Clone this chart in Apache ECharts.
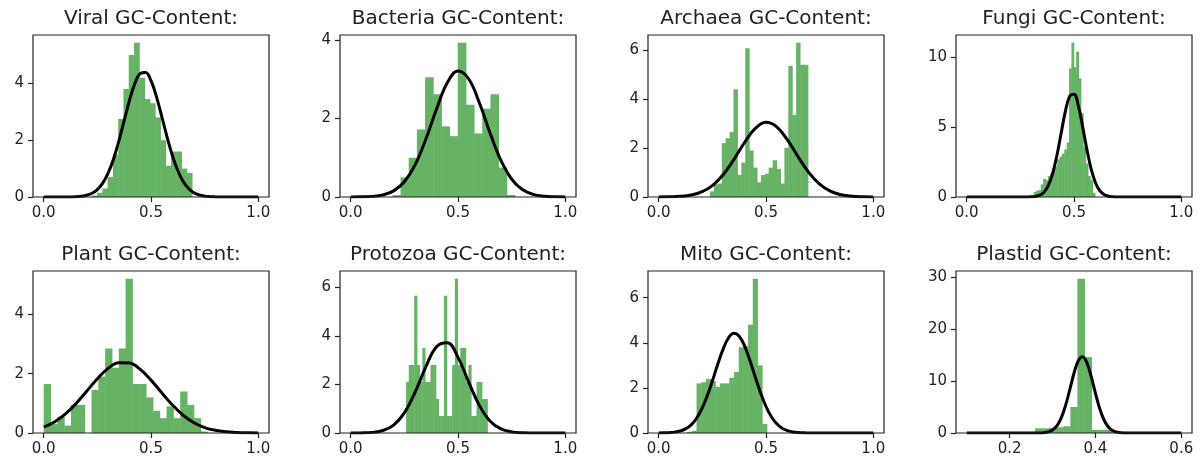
<!DOCTYPE html>
<html>
<head>
<meta charset="utf-8">
<script src="https://cdn.jsdelivr.net/npm/echarts@6/dist/echarts.min.js"></script>
<style>
  html, body { margin: 0; padding: 0; background: #fff; }
  #chart { width: 1200px; height: 463px; }
</style>
</head>
<body>
<div id="chart"></div>
<script>
// sample points of the fitted normal curves
const grid05 = [0, 0.05, 0.1, 0.15, 0.2, 0.25, 0.3, 0.35, 0.4, 0.45, 0.5, 0.55, 0.6, 0.65, 0.7, 0.75, 0.8, 0.85, 0.9, 0.95, 1];
const grid025 = [0, 0.025, 0.05, 0.075, 0.1, 0.125, 0.15, 0.175, 0.2, 0.225, 0.25, 0.275, 0.3, 0.325, 0.35, 0.375, 0.4, 0.425, 0.45, 0.475, 0.5,
  0.525, 0.55, 0.575, 0.6, 0.625, 0.65, 0.675, 0.7, 0.725, 0.75, 0.775, 0.8, 0.825, 0.85, 0.875, 0.9, 0.925, 0.95, 0.975, 1];

// Viral
const viralBins = [0.224, 0.0246];
const viralHeights = [0.05, 0.15, 0.3, 0.7, 1.5, 2.75, 3.8, 5.0, 5.43, 4.2, 3.45, 3.3, 2.8, 2.0, 1.1, 1.6, 1.6, 1.0, 0.85];
const viralCurve = [0, 0, 0, 0, 0, 0.003, 0.01, 0.026, 0.061, 0.131, 0.262, 0.487, 0.837, 1.332, 1.967, 2.69, 3.408, 4.0, 4.35, 4.383, 4.092,
  3.54, 2.837, 2.107, 1.45, 0.924, 0.546, 0.299, 0.151, 0.071, 0.031, 0.012, 0.004, 0.001, 0, 0, 0, 0, 0, 0, 0];
const viralYTicks = [0, 2, 4];

// Bacteria
const bacteriaBins = [0.194, 0.0381];
const bacteriaHeights = [0.05, 0.5, 1.0, 1.72, 3.05, 2.62, 1.8, 1.55, 3.93, 2.35, 1.62, 2.25, 2.62, 0.75, 0.05];
const bacteriaCurve = [0.001, 0.004, 0.016, 0.053, 0.156, 0.388, 0.818, 1.47, 2.243, 2.909, 3.207, 3.005, 2.394, 1.621, 0.932, 0.456, 0.189, 0.067, 0.02, 0.005, 0.001];
const bacteriaYTicks = [0, 2, 4];

// Archaea
const archaeaBins = [0.239, 0.01825];
const archaeaHeights = [0.23, 0.52, 0.55, 2.2, 2.4, 2.65, 4.4, 0.9, 1.4, 6.07, 1.9, 1.2, 0.6, 0.9, 0.95, 1.2, 1.5, 1.15, 0.55, 2.0, 5.35, 3.35, 6.3, 5.4, 5.4];
const archaeaCurve = [0.002, 0.008, 0.026, 0.079, 0.206, 0.465, 0.907, 1.528, 2.226, 2.801, 3.05, 2.867, 2.332, 1.639, 0.996, 0.523, 0.237, 0.093, 0.032, 0.009, 0.002];
const archaeaYTicks = [0, 2, 4, 6];

// Fungi
const fungiBins = [0.312, 0.011];
const fungiHeights = [0.35, 0.45, 0.5, 0.9, 1.3, 1.2, 1.5, 1.7, 2.0, 2.2, 2.7, 2.9, 3.1, 3.4, 3.9, 9.2, 11.05, 9.3, 10.4, 8.5, 6.0, 3.6, 2.4, 1.5, 1.2, 0.3];
const fungiCurveX = [0, 0.1, 0.2, 0.26, 0.28, 0.3, 0.32, 0.34, 0.36, 0.38, 0.4, 0.42, 0.44, 0.46, 0.48, 0.5, 0.52, 0.54, 0.56, 0.58, 0.6,
  0.62, 0.64, 0.66, 0.68, 0.7, 0.72, 0.74, 0.8, 0.9, 1];
const fungiCurve = [0, 0, 0, 0, 0.002, 0.012, 0.041, 0.128, 0.346, 0.812, 1.658, 2.95, 4.566, 6.152, 7.215, 7.367, 6.548, 5.066, 3.411, 2.0, 1.021,
  0.453, 0.175, 0.059, 0.017, 0.004, 0.001, 0, 0, 0, 0];
const fungiYTicks = [0, 5, 10];

// Plant
const plantBins = [0, 0.0318];
const plantHeights = [1.65, 0.3, 0.55, 0.25, 0.95, 0.95, 0, 1.45, 1.9, 2.85, 2.2, 2.85, 5.2, 1.65, 1.65, 1.2, 0.75, 0.5, 0.9, 0.5, 1.4, 0.95, 0.5, 0.05];
const plantCurve = [0.2, 0.372, 0.634, 0.988, 1.406, 1.83, 2.178, 2.369, 2.357, 2.143, 1.782, 1.354, 0.941, 0.598, 0.347, 0.184, 0.09, 0.04, 0.016, 0.006, 0.002];
const plantYTicks = [0, 2, 4];

// Protozoa
const protozoaBins = [0.258, 0.01263];
const protozoaHeights = [2.1, 2.8, 2.8, 5.65, 2.8, 2.1, 3.5, 2.1, 2.1, 2.8, 2.8, 1.4, 0.7, 0.7, 5.65, 0.7, 0.7, 2.8, 6.35, 2.8, 3.5, 3.5, 2.1, 2.8, 0.7, 0.7, 2.1, 2.1, 1.4, 1.4];
const protozoaCurve = [0.001, 0.005, 0.026, 0.104, 0.327, 0.827, 1.677, 2.726, 3.552, 3.713, 3.112, 2.091, 1.127, 0.487, 0.169, 0.047, 0.01, 0.002, 0, 0, 0];
const protozoaYTicks = [0, 2, 4, 6];

// Mito
const mitoBins = [0.1326, 0.02184];
const mitoHeights = [0.05, 0.1, 2.2, 2.25, 2.4, 2.3, 2.05, 2.2, 2.2, 2.45, 2.7, 3.8, 3.85, 4.8, 6.84, 3.0, 0.4];
const mitoCurve = [0.002, 0.006, 0.016, 0.039, 0.087, 0.182, 0.353, 0.633, 1.052, 1.619, 2.306, 3.044, 3.72, 4.212, 4.417, 4.291, 3.86, 3.216, 2.482, 1.774, 1.175,
  0.72, 0.409, 0.215, 0.105, 0.047, 0.02, 0.008, 0.003, 0.001, 0, 0, 0, 0, 0, 0, 0, 0, 0, 0, 0];
const mitoYTicks = [0, 2, 4, 6];

// Plastid
const plastidBins = [0.2589, 0.0165];
const plastidHeights = [0.9, 0.9, 1.0, 1.1, 1.3, 5.0, 29.7, 14.6, 0.6, 0.6, 0.6];
const plastidCurveX = [0.1, 0.2, 0.25, 0.27, 0.28, 0.29, 0.3, 0.31, 0.32, 0.33, 0.34, 0.35, 0.36, 0.37, 0.38, 0.39, 0.4,
  0.41, 0.42, 0.43, 0.44, 0.45, 0.46, 0.47, 0.48, 0.5, 0.55, 0.6];
const plastidCurve = [0, 0, 0, 0.019, 0.067, 0.21, 0.575, 1.375, 2.868, 5.22, 8.29, 11.5, 13.91, 14.7, 13.54, 10.89, 7.64,
  4.68, 2.5, 1.167, 0.475, 0.169, 0.052, 0.014, 0.003, 0, 0, 0];
const plastidYTicks = [0, 10, 20, 30];

const xTicks01 = [0, 0.5, 1];
const xTicksPlastid = [0.2, 0.4, 0.6];

const panels = [
  { title: 'Viral GC-Content:', bins: viralBins, heights: viralHeights, cx: grid025, cy: viralCurve, xr: [-0.05, 1.05], xt: xTicks01, yt: viralYTicks },
  { title: 'Bacteria GC-Content:', bins: bacteriaBins, heights: bacteriaHeights, cx: grid05, cy: bacteriaCurve, xr: [-0.05, 1.05], xt: xTicks01, yt: bacteriaYTicks },
  { title: 'Archaea GC-Content:', bins: archaeaBins, heights: archaeaHeights, cx: grid05, cy: archaeaCurve, xr: [-0.05, 1.05], xt: xTicks01, yt: archaeaYTicks },
  { title: 'Fungi GC-Content:', bins: fungiBins, heights: fungiHeights, cx: fungiCurveX, cy: fungiCurve, xr: [-0.05, 1.05], xt: xTicks01, yt: fungiYTicks },
  { title: 'Plant GC-Content:', bins: plantBins, heights: plantHeights, cx: grid05, cy: plantCurve, xr: [-0.05, 1.05], xt: xTicks01, yt: plantYTicks },
  { title: 'Protozoa GC-Content:', bins: protozoaBins, heights: protozoaHeights, cx: grid05, cy: protozoaCurve, xr: [-0.05, 1.05], xt: xTicks01, yt: protozoaYTicks },
  { title: 'Mito GC-Content:', bins: mitoBins, heights: mitoHeights, cx: grid025, cy: mitoCurve, xr: [-0.05, 1.05], xt: xTicks01, yt: mitoYTicks },
  { title: 'Plastid GC-Content:', bins: plastidBins, heights: plastidHeights, cx: plastidCurveX, cy: plastidCurve, xr: [0.075, 0.625], xt: xTicksPlastid, yt: plastidYTicks }
];

// layout
const colLeft = [33, 340, 648, 956];
const rowTop = [35, 271];
const plotW = 236;
const plotH = 162;
const font = "'DejaVu Sans', sans-serif";
const ink = '#222';

function renderBin(params, api) {
  const topLeft = api.coord([api.value(0), api.value(2)]);
  const bottomRight = api.coord([api.value(1), 0]);
  return {
    type: 'rect',
    shape: {
      x: topLeft[0],
      y: topLeft[1],
      width: bottomRight[0] - topLeft[0] + 0.5,
      height: bottomRight[1] - topLeft[1]
    },
    style: { fill: '#66b366' }
  };
}

const grid = [], xAxis = [], yAxis = [], series = [], title = [];

panels.forEach((p, i) => {
  const left = colLeft[i % 4];
  const top = rowTop[Math.floor(i / 4)];
  grid.push({
    left: left, top: top, width: plotW, height: plotH,
    show: true, borderColor: ink, borderWidth: 1.2, backgroundColor: 'transparent', z: 10
  });
  title.push({
    text: p.title,
    left: left + plotW / 2,
    top: top - 26,
    textAlign: 'center',
    padding: 0,
    textStyle: { fontFamily: font, fontSize: 20, fontWeight: 'normal', color: ink }
  });
  xAxis.push({
    type: 'value', gridIndex: i, min: p.xr[0], max: p.xr[1], z: 10,
    axisLine: { show: false, onZero: false },
    splitLine: { show: false },
    axisTick: { show: true, inside: false, length: 5, customValues: p.xt, lineStyle: { color: ink, width: 1.2 } },
    axisLabel: {
      customValues: p.xt, margin: 9, color: ink, fontFamily: font, fontSize: 15,
      formatter: v => v.toFixed(1)
    }
  });
  yAxis.push({
    type: 'value', gridIndex: i, min: 0, max: v => v.max * 1.05, z: 10,
    axisLine: { show: false, onZero: false },
    splitLine: { show: false },
    axisTick: { show: true, inside: false, length: 5, customValues: p.yt, lineStyle: { color: ink, width: 1.2 } },
    axisLabel: {
      customValues: p.yt, margin: 9, color: ink, fontFamily: font, fontSize: 15,
      formatter: v => String(v)
    }
  });
  const binData = p.heights.map((h, k) => [p.bins[0] + k * p.bins[1], p.bins[0] + (k + 1) * p.bins[1], h]);
  series.push({
    type: 'custom', xAxisIndex: i, yAxisIndex: i, z: 2,
    renderItem: renderBin,
    encode: { x: [0, 1], y: 2 },
    data: binData,
    silent: true
  });
  series.push({
    type: 'line', xAxisIndex: i, yAxisIndex: i, z: 3,
    data: p.cx.map((x, k) => [x, p.cy[k]]),
    smooth: 0.4,
    symbol: 'none',
    lineStyle: { color: '#000', width: 3 },
    silent: true
  });
});

const chart = echarts.init(document.getElementById('chart'), null, { renderer: 'canvas' });
chart.setOption({
  animation: false,
  backgroundColor: '#fff',
  title: title,
  grid: grid,
  xAxis: xAxis,
  yAxis: yAxis,
  series: series
});
</script>
</body>
</html>
